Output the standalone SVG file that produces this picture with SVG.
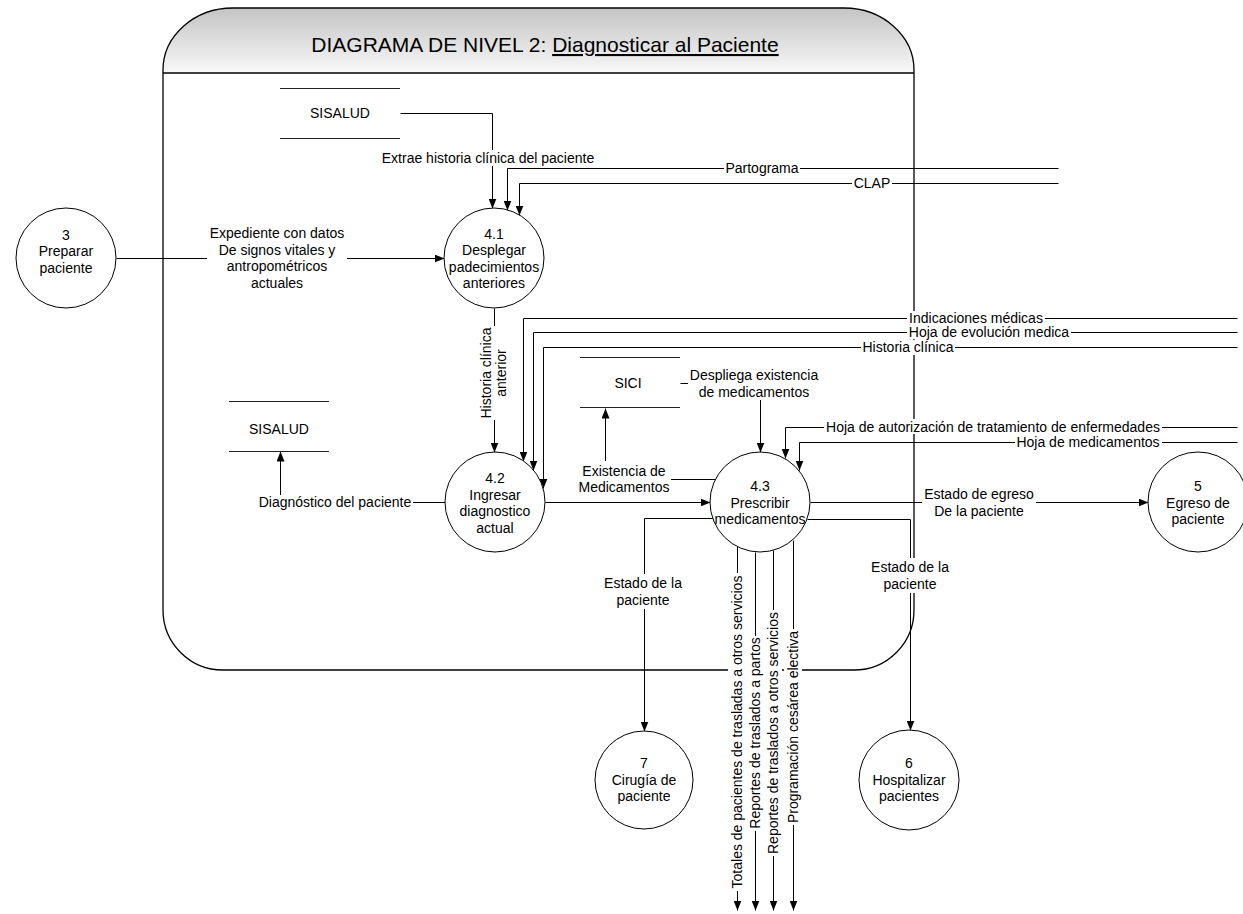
<svg xmlns="http://www.w3.org/2000/svg" width="1243" height="914" viewBox="0 0 1243 914">
  <defs>
    <linearGradient id="hdr" x1="0" y1="0" x2="0" y2="1">
      <stop offset="0" stop-color="#c4c4c4"/>
      <stop offset="1" stop-color="#f8f8f8"/>
    </linearGradient>
    <marker id="arr" markerUnits="userSpaceOnUse" markerWidth="10" markerHeight="8" refX="10" refY="4" orient="auto">
      <path d="M0,0 L10,4 L0,8 z" fill="#000"/>
    </marker>
  </defs>
  <style>
    .t { font-family: "Liberation Sans", Arial, sans-serif; font-size: 14px; fill: #000; text-anchor: middle; }
    .title { font-family: "Liberation Sans", Arial, sans-serif; font-size: 21px; fill: #000; text-anchor: middle; }
    .u { text-decoration: underline; }
    .proc { fill: #fff; stroke: #000; stroke-width: 1; }
    .store { stroke: #222; stroke-width: 1; fill: none; }
    .flow { fill: none; stroke: #000; stroke-width: 1; }
    .arrow { marker-end: url(#arr); }
    .bg { fill: #fff; stroke: none; }
  </style>

  <rect width="1243" height="914" fill="#fff"/>

  <!-- level-2 boundary with shaded title band -->
  <g id="boundary">
    <path d="M163,73 L163,70 A70,62 0 0 1 233,8 L844,8 A70,62 0 0 1 914,70 L914,73 Z" fill="url(#hdr)"/>
    <path d="M163,73 L163,610 A60,60 0 0 0 223,670 L854,670 A60,60 0 0 0 914,610 L914,70 A70,62 0 0 0 844,8 L233,8 A70,62 0 0 0 163,70 Z" fill="none" stroke="#000" stroke-width="1.3"/>
    <line x1="163" y1="73" x2="914" y2="73" stroke="#000" stroke-width="1.3"/>
    <text class="title" x="545" y="52">DIAGRAMA DE NIVEL 2: <tspan class="u">Diagnosticar al Paciente</tspan></text>
  </g>

  <!-- data flows -->
  <g id="connectors">
    <g transform="translate(0.5,0.5)">
      <path class="flow arrow" d="M400,113 H492 V208"/>
      <path class="flow arrow" d="M1058,168 H507 V210"/>
      <path class="flow arrow" d="M1058,183 H519 V215"/>
      <path class="flow arrow" d="M116,258 H444"/>
      <path class="flow arrow" d="M494,308 V452"/>
      <path class="flow arrow" d="M1237,318 H523 V461"/>
      <path class="flow arrow" d="M1237,332 H533 V470"/>
      <path class="flow arrow" d="M1237,347 H543 V488"/>
      <path class="flow arrow" d="M680,383 H760 V452"/>
      <path class="flow arrow" d="M1237,427 H785 V458"/>
      <path class="flow arrow" d="M1237,442 H799 V470"/>
      <path class="flow arrow" d="M716,479 H605 V408"/>
      <path class="flow arrow" d="M545,502 H710"/>
      <path class="flow arrow" d="M445,502 H280 V451"/>
      <path class="flow arrow" d="M810,502 H1148"/>
      <path class="flow arrow" d="M713,518 H644 V731"/>
      <path class="flow arrow" d="M807,519 H910 V730"/>
      <path class="flow arrow" d="M737,546 V910"/>
      <path class="flow arrow" d="M755,552 V910"/>
      <path class="flow arrow" d="M773,550 V910"/>
      <path class="flow arrow" d="M793,540 V910"/>
    </g>

    <g id="flow-labels">
      <rect class="bg" x="380" y="150" width="216" height="16"/>
      <text class="t" x="488" y="163">Extrae historia clínica del paciente</text>

      <rect class="bg" x="724" y="161" width="76" height="15"/>
      <text class="t" x="762" y="173">Partograma</text>

      <rect class="bg" x="852" y="176" width="40" height="15"/>
      <text class="t" x="872" y="188">CLAP</text>

      <rect class="bg" x="207" y="224" width="140" height="68"/>
      <text class="t" x="277" y="238"><tspan x="277">Expediente con datos</tspan><tspan x="277" dy="16.5">De signos vitales y</tspan><tspan x="277" dy="16.5">antropométricos</tspan><tspan x="277" dy="16.5">actuales</tspan></text>

      <rect class="bg" x="477" y="326" width="34" height="94"/>
      <g transform="translate(494,373) rotate(-90)">
        <text class="t" y="-3"><tspan x="0">Historia clínica</tspan><tspan x="0" dy="15">anterior</tspan></text>
      </g>

      <rect class="bg" x="907" y="311" width="138" height="14"/>
      <text class="t" x="976" y="323">Indicaciones médicas</text>

      <rect class="bg" x="907" y="325" width="164" height="14"/>
      <text class="t" x="989" y="337">Hoja de evolución medica</text>

      <rect class="bg" x="861" y="340" width="94" height="15"/>
      <text class="t" x="908" y="352">Historia clínica</text>

      <rect class="bg" x="688" y="366" width="132" height="34"/>
      <text class="t" x="754" y="380"><tspan x="754">Despliega existencia</tspan><tspan x="754" dy="16.5">de medicamentos</tspan></text>

      <rect class="bg" x="824" y="419" width="338" height="15"/>
      <text class="t" x="993" y="432">Hoja de autorización de tratamiento de enfermedades</text>

      <rect class="bg" x="1015" y="435" width="147" height="14"/>
      <text class="t" x="1088" y="447">Hoja de medicamentos</text>

      <rect class="bg" x="577" y="461" width="94" height="35"/>
      <text class="t" x="624" y="475.5"><tspan x="624">Existencia de</tspan><tspan x="624" dy="16.5">Medicamentos</tspan></text>

      <rect class="bg" x="257" y="495" width="156" height="15"/>
      <text class="t" x="335" y="507">Diagnóstico del paciente</text>

      <rect class="bg" x="922" y="485" width="114" height="34"/>
      <text class="t" x="979" y="499"><tspan x="979">Estado de egreso</tspan><tspan x="979" dy="16.5">De la paciente</tspan></text>

      <rect class="bg" x="603" y="574" width="80" height="35"/>
      <text class="t" x="643" y="588"><tspan x="643">Estado de la</tspan><tspan x="643" dy="16.5">paciente</tspan></text>

      <rect class="bg" x="870" y="558" width="80" height="35"/>
      <text class="t" x="910" y="572"><tspan x="910">Estado de la</tspan><tspan x="910" dy="16.5">paciente</tspan></text>

      <rect class="bg" x="728" y="573" width="18" height="318"/>
      <rect class="bg" x="746" y="636" width="18" height="195"/>
      <rect class="bg" x="764" y="610" width="18" height="246"/>
      <rect class="bg" x="784" y="629" width="18" height="196"/>
      <g transform="translate(737,732) rotate(-90)"><text class="t" y="5">Totales de pacientes de trasladas a otros servicios</text></g>
      <g transform="translate(755,733) rotate(-90)"><text class="t" y="5">Reportes de traslados a partos</text></g>
      <g transform="translate(773,733) rotate(-90)"><text class="t" y="5">Reportes de traslados a otros servicios</text></g>
      <g transform="translate(793,727) rotate(-90)"><text class="t" y="5">Programación cesárea electiva</text></g>
    </g>
  </g>

  <!-- data stores -->
  <g id="store-sisalud-1">
    <line class="store" x1="280" y1="88.5" x2="400" y2="88.5"/>
    <line class="store" x1="280" y1="138.5" x2="400" y2="138.5"/>
    <text class="t" x="340" y="118">SISALUD</text>
  </g>
  <g id="store-sisalud-2">
    <line class="store" x1="229" y1="401.5" x2="329" y2="401.5"/>
    <line class="store" x1="229" y1="451.5" x2="329" y2="451.5"/>
    <text class="t" x="279" y="434">SISALUD</text>
  </g>
  <g id="store-sici">
    <line class="store" x1="580" y1="357.5" x2="680" y2="357.5"/>
    <line class="store" x1="580" y1="407.5" x2="680" y2="407.5"/>
    <text class="t" x="628" y="388">SICI</text>
  </g>

  <!-- processes -->
  <g id="p3">
    <circle class="proc" cx="66" cy="258" r="50"/>
    <text class="t" x="66" y="239.5"><tspan x="66">3</tspan><tspan x="66" dy="16.5">Preparar</tspan><tspan x="66" dy="16.5">paciente</tspan></text>
  </g>
  <g id="p4-1">
    <circle class="proc" cx="494" cy="258" r="50"/>
    <text class="t" x="494" y="238.5"><tspan x="494">4.1</tspan><tspan x="494" dy="16.5">Desplegar</tspan><tspan x="494" dy="16.5">padecimientos</tspan><tspan x="494" dy="16.5">anteriores</tspan></text>
  </g>
  <g id="p4-2">
    <circle class="proc" cx="495" cy="502" r="50"/>
    <text class="t" x="495" y="483"><tspan x="495">4.2</tspan><tspan x="495" dy="16.5">Ingresar</tspan><tspan x="495" dy="16.5">diagnostico</tspan><tspan x="495" dy="16.5">actual</tspan></text>
  </g>
  <g id="p4-3">
    <circle class="proc" cx="760" cy="502" r="50"/>
    <text class="t" x="760" y="491"><tspan x="760">4.3</tspan><tspan x="760" dy="16.5">Prescribir</tspan><tspan x="760" dy="16.5">medicamentos</tspan></text>
  </g>
  <g id="p5">
    <circle class="proc" cx="1198" cy="502" r="50"/>
    <text class="t" x="1198" y="491"><tspan x="1198">5</tspan><tspan x="1198" dy="16.5">Egreso de</tspan><tspan x="1198" dy="16.5">paciente</tspan></text>
  </g>
  <g id="p7">
    <circle class="proc" cx="644" cy="780" r="49"/>
    <text class="t" x="644" y="768"><tspan x="644">7</tspan><tspan x="644" dy="16.5">Cirugía de</tspan><tspan x="644" dy="16.5">paciente</tspan></text>
  </g>
  <g id="p6">
    <circle class="proc" cx="909" cy="780" r="50"/>
    <text class="t" x="909" y="768"><tspan x="909">6</tspan><tspan x="909" dy="16.5">Hospitalizar</tspan><tspan x="909" dy="16.5">pacientes</tspan></text>
  </g>
</svg>
